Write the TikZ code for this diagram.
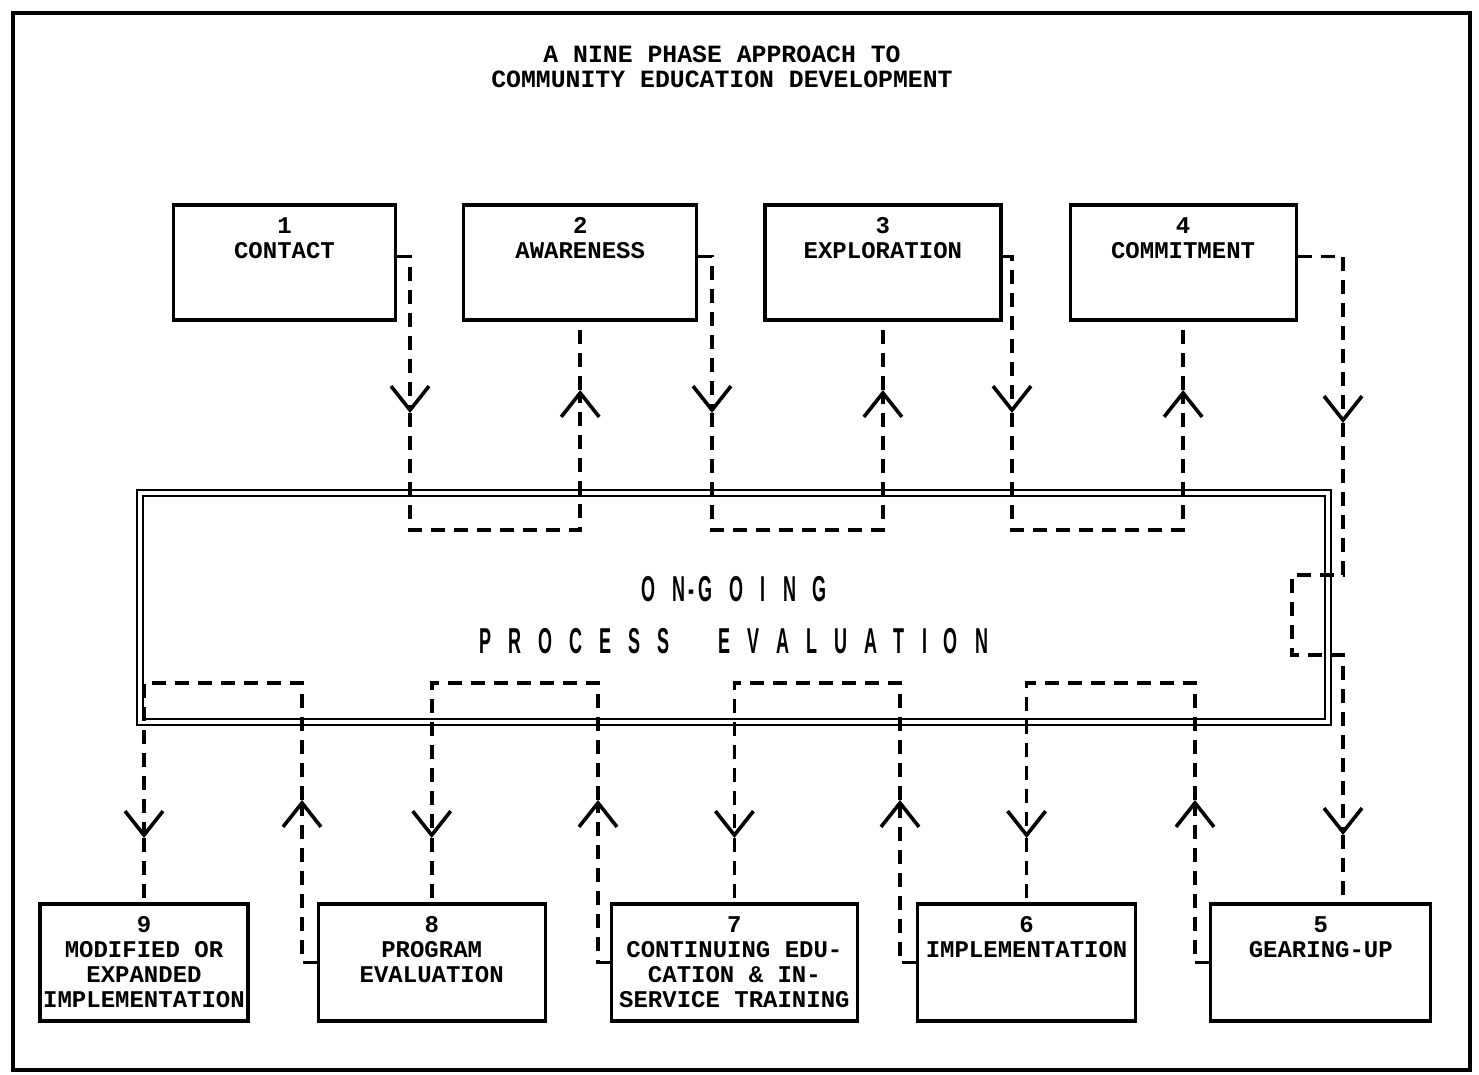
\documentclass[tikz,border=0pt]{standalone}
\usepackage{fontspec}
\setmonofont{Liberation Mono}
\newfontfamily\evalfont[FakeStretch=0.5]{Liberation Sans}
\usetikzlibrary{arrows.meta,positioning}
\makeatletter
\newcommand{\spacedout}[1]{\@tfor\ch:=#1\do{\ch\kern8.5pt}\unkern}
\makeatother

\begin{document}
\begin{tikzpicture}[x=0.5pt, y=-0.5pt,
  phase/.style={draw, line width=1.6pt, minimum height=57.5pt, inner sep=0pt},
  lbl/.style={anchor=north, align=center, inner sep=7pt, font=\ttfamily\bfseries\fontsize{12}{12.4}\selectfont},
  evalbox/.style={draw, line width=1pt, double, double distance=2pt, align=center, font={\fontsize{18}{26}\selectfont\evalfont\bfseries}},
  dline/.style={line width=1.8pt, dash pattern=on 7pt off 4.5pt},
  vtip/.style={-{Straight Barb[length=12pt, width=19pt]}},
  node distance=10mm and 32.5pt
]
\useasboundingbox (0,0) rectangle (1479,1075);
\draw[line width=1.8pt] (13,13) rectangle (1470,1070);
\node[font=\ttfamily\bfseries\fontsize{12.4}{12.5}\selectfont, align=center] (title) at (722,67)
  {A NINE PHASE APPROACH TO\\COMMUNITY EDUCATION DEVELOPMENT};

% top row
\node[phase, minimum width=111pt, label={[lbl]north:{1\\CONTACT}}] (c1) at (284.5,262.5) {};
\node[phase, minimum width=116.5pt, right=of c1, label={[lbl]north:{2\\AWARENESS}}] (c2) {};
\node[phase, minimum width=118pt, right=of c2, label={[lbl]north:{3\\EXPLORATION}}] (c3) {};
\node[phase, minimum width=113pt, right=33pt of c3, label={[lbl]north:{4\\COMMITMENT}}] (c4) {};

% bottom row
\node[phase, minimum width=104pt, minimum height=58.5pt, label={[lbl]north:{9\\MODIFIED OR\\EXPANDED\\IMPLEMENTATION}}] (b9) at (144,962.5) {};
\node[phase, minimum width=113.5pt, minimum height=58.5pt, right=33.5pt of b9, label={[lbl]north:{8\\PROGRAM\\EVALUATION}}] (b8) {};
\node[phase, minimum width=123pt, minimum height=58.5pt, right=31.5pt of b8, label={[lbl]north:{7\\CONTINUING EDU-\\CATION \& IN-\\SERVICE TRAINING}}] (b7) {};
\node[phase, minimum width=109pt, minimum height=58.5pt, right=28.5pt of b7, label={[lbl]north:{6\\IMPLEMENTATION}}] (b6) {};
\node[phase, minimum width=110pt, minimum height=58.5pt, right=36pt of b6, label={[lbl]north:{5\\GEARING-UP}}] (b5) {};

% evaluation box
\node[evalbox, minimum width=594pt, minimum height=114.5pt] (eval) at (734,607.5)
  {\rule{0pt}{20pt}\spacedout{ON}\kern2pt-\kern2pt\spacedout{GOING}\\
   \spacedout{PROCESS}\hspace{24pt}\spacedout{EVALUATION}};

% top loops
\foreach \a/\b/\x in {c1/c2/410, c2/c3/712, c3/c4/1012}{
  \draw[dline, vtip] ([yshift=3pt]\a.east) -| (\x,413);
  \draw[dline, vtip] (\x,413) |- (\b.south |- 0,530) -- (\b.south |- 0,390);
  \draw[dline] (\b.south |- 0,390) -- (\b.south);
}
% commitment to gearing-up
\draw[dline, vtip] ([yshift=3pt]c4.east) -| (1343,423);
\draw[dline, vtip] (1343,423) |- (1292,575) |- (1343,655) -- (1343,835);
\draw[dline] (1343,835) -- (b5.north -| 1343,0);
% bottom loops
\foreach \a/\b/\x in {b5/b6/1195, b6/b7/900, b7/b8/598, b8/b9/302}{
  \draw[dline, vtip] (\a.west) -| (\x,800);
  \draw[dline, vtip] (\x,800) |- (\b.north |- 0,683) -- (\b.north |- 0,838);
  \draw[dline] (\b.north |- 0,838) -- (\b.north);
}
\end{tikzpicture}
\end{document}
